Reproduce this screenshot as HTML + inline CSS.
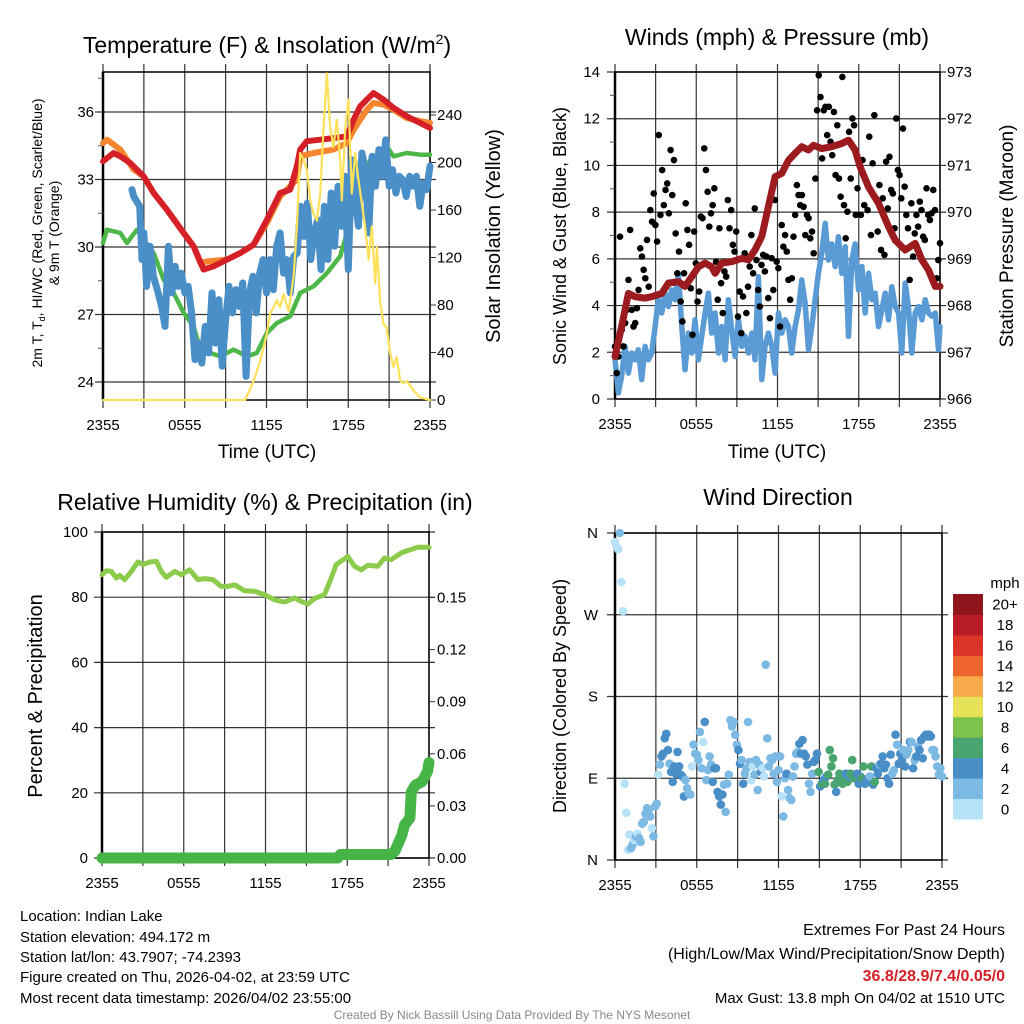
<!DOCTYPE html>
<html><head><meta charset="utf-8"><title>Indian Lake Meteogram</title>
<style>
html,body{margin:0;padding:0;background:#fff;}
svg{display:block;font-family:"Liberation Sans",Arial,sans-serif;}
</style></head>
<body>
<svg id="chart" width="1024" height="1024" viewBox="0 0 1024 1024" xmlns="http://www.w3.org/2000/svg">
<rect x="0" y="0" width="1024" height="1024" fill="#fff"/>
<text x="267" y="53" font-size="23" text-anchor="middle">Temperature (F) &amp; Insolation (W/m<tspan dy="-9" font-size="14">2</tspan><tspan dy="9">)</tspan></text>
<text x="777" y="45" font-size="23" text-anchor="middle">Winds (mph) &amp; Pressure (mb)</text>
<text x="265" y="510" font-size="23" text-anchor="middle">Relative Humidity (%) &amp; Precipitation (in)</text>
<text x="778" y="505" font-size="23" text-anchor="middle">Wind Direction</text>

<text transform="translate(42,233) rotate(-90)" font-size="14" text-anchor="middle">2m T, T<tspan dy="3" font-size="9">d</tspan><tspan dy="-3">, HI/WC (Red, Green, Scarlet/Blue)</tspan></text>
<text transform="translate(59,233) rotate(-90)" font-size="14" text-anchor="middle">&amp; 9m T (Orange)</text>
<text transform="translate(500,236) rotate(-90)" font-size="20" text-anchor="middle">Solar Insolation (Yellow)</text>
<text transform="translate(566,236) rotate(-90)" font-size="18" text-anchor="middle">Sonic Wind &amp; Gust (Blue, Black)</text>
<text transform="translate(1013,236) rotate(-90)" font-size="19" text-anchor="middle">Station Pressure (Maroon)</text>
<text transform="translate(42,696) rotate(-90)" font-size="20" text-anchor="middle">Percent &amp; Precipitation</text>
<text transform="translate(566,696) rotate(-90)" font-size="18" text-anchor="middle">Direction (Colored By Speed)</text>
<text x="267" y="458" font-size="19" text-anchor="middle">Time (UTC)</text>
<text x="777" y="458" font-size="19" text-anchor="middle">Time (UTC)</text>

<g font-size="15">
<text x="20" y="921">Location: Indian Lake</text>
<text x="20" y="942">Station elevation: 494.172 m</text>
<text x="20" y="962">Station lat/lon: 43.7907; -74.2393</text>
<text x="20" y="982">Figure created on Thu, 2026-04-02, at 23:59 UTC</text>
<text x="20" y="1003">Most recent data timestamp: 2026/04/02 23:55:00</text>
</g>
<g font-size="15" text-anchor="end">
<text x="1005" y="935" font-size="16">Extremes For Past 24 Hours</text>
<text x="1005" y="959" font-size="16">(High/Low/Max Wind/Precipitation/Snow Depth)</text>
<text x="1005" y="981" font-size="16" font-weight="bold" fill="#d42026">36.8/28.9/7.4/0.05/0</text>
<text x="1005" y="1003">Max Gust: 13.8 mph On 04/02 at 1510 UTC</text>
</g>
<text x="512" y="1019" font-size="12" fill="#888" text-anchor="middle">Created By Nick Bassill Using Data Provided By The NYS Mesonet</text>
<text x="1005" y="588" font-size="15" text-anchor="middle">mph</text>
</svg>
<script>
// ---------- Data ----------
const timeTickLabels = ["2355","0555","1155","1755","2355"];
const tempTicks = [24,27,30,33,36];
const solarTicks = [0,40,80,120,160,200,240];
const windTicks = [0,2,4,6,8,10,12,14];
const presTicks = [966,967,968,969,970,971,972,973];
const rhTicks = [0,20,40,60,80,100];
const precipTicks = [0.00,0.03,0.06,0.09,0.12,0.15];
const precipTickLabels = ["0.00","0.03","0.06","0.09","0.12","0.15"];
const dirTicks = [0,90,180,270,360];
const dirTickLabels = ["N","E","S","W","N"];

const tempT = [0,0.78,1.27,2.0,2.98,3.72,4.69,5.92,6.65,7.38,8.12,9.1,10.07,11.05,12.03,13.0,13.74,14.23,14.47,14.96,15.94,16.92,17.9,18.39,18.88,19.36,19.85,20.59,21.32,22.3,23.28,24];
const tempV = [33.81,34.18,34.03,33.73,33.14,32.4,31.66,30.62,30.03,29.0,29.14,29.44,29.73,30.1,31.21,32.4,32.55,33.59,34.33,34.7,34.77,34.84,34.92,35.66,36.25,36.55,36.84,36.55,36.18,35.81,35.51,35.29];
const t9mT = [0,0.3,1.27,2.25,2.98,3.72,4.69,5.92,6.65,7.14,7.63,9.1,10.07,11.05,12.03,13.0,14.23,14.47,15.45,16.92,17.9,18.39,19.36,19.85,20.59,21.32,22.3,23.28,24];
const t9mV = [34.62,34.77,34.33,33.44,33.14,32.4,31.66,30.62,30.03,29.29,29.36,29.44,29.73,30.1,31.07,32.25,33.0,34.03,34.18,34.33,34.62,35.21,36.1,36.4,36.33,36.1,35.73,35.59,35.51];
const dewT = [0,0.29,1.27,1.76,2.49,2.98,3.72,4.45,5.18,5.92,6.65,7.14,7.87,8.61,9.58,10.56,11.29,12.03,12.76,13.74,14.47,15.45,16.43,17.41,17.9,18.39,19.12,19.61,20.34,20.83,21.32,22.3,23.28,24];
const dewV = [30.18,30.77,30.62,30.18,30.77,30.33,29.73,28.55,27.96,27.07,26.47,25.44,25.29,25.14,25.44,25.14,25.29,26.18,26.62,26.92,27.96,28.25,28.84,29.59,30.62,33.88,33.14,33.88,34.03,34.47,34.03,34.18,34.1,34.1];
const wcT = [2.13,2.25,2.69,2.86,3.0,3.2,3.45,3.7,4.05,4.3,4.55,4.8,5.05,5.3,5.5,5.75,6.0,6.25,6.5,6.75,7.0,7.25,7.5,7.75,8.0,8.25,8.5,8.75,9.0,9.25,9.5,9.75,10.0,10.25,10.5,10.75,11.0,11.25,11.5,11.75,12.0,12.25,12.5,12.75,13.0,13.25,13.5,13.75,14.0,14.25,14.5,14.75,15.0,15.25,15.5,15.75,16.0,16.25,16.5,16.75,17.0,17.25,17.5,17.75,18.0,18.25,18.5,18.75,19.0,19.25,19.5,19.75,20.0,20.25,20.5,20.75,21.0,21.25,21.5,21.75,22.0,22.25,22.5,22.75,23.0,23.25,23.5,23.75,24.0];
const wcV = [32.55,32.25,31.81,29.44,30.62,28.25,30.03,28.7,27.96,27.36,26.47,30.03,27.96,29.14,28.25,28.84,27.96,28.25,27.07,24.99,25.73,24.84,26.47,25.29,27.96,25.73,27.66,24.7,26.77,28.25,27.07,28.1,27.36,28.4,24.25,27.96,28.7,27.07,28.84,29.44,27.96,29.44,28.1,30.03,30.62,28.84,29.44,27.96,29.59,29.73,31.81,30.47,31.96,29.44,30.62,31.21,29.0,31.81,29.44,32.4,30.03,32.7,30.92,33.14,29.0,33.88,32.1,30.92,34.18,33.44,30.62,34.03,32.7,34.33,33.14,34.77,32.7,33.44,32.4,33.14,32.99,32.25,33.14,32.7,33.14,31.81,32.84,32.55,33.59];
const solarT = [0,10.44,11.05,11.54,12.03,12.27,12.52,12.76,13.0,13.25,13.62,13.99,14.23,14.47,14.72,14.96,15.21,15.45,15.7,15.94,16.19,16.43,16.67,16.92,17.16,17.41,17.53,17.78,18.02,18.26,18.51,18.75,19.0,19.24,19.49,19.73,19.98,20.1,20.34,20.59,20.83,21.08,21.32,21.56,21.81,22.05,22.3,22.79,23.28,24];
const solarV = [0,0,16,33,56,73,78,84,78,89,75,104,146,208,202,194,168,157,151,174,230,275,230,213,236,202,168,230,253,174,208,185,165,146,118,146,98,129,84,64,61,39,28,36,16,14,16,8,2,0];

const presT = [0,0.49,0.99,1.48,2.22,2.71,3.45,3.94,4.68,5.17,5.67,6.16,6.65,7.14,7.39,7.88,8.62,9.36,9.85,10.34,10.84,11.33,11.82,12.32,12.81,13.3,13.79,14.29,14.66,15.27,16.01,16.75,17.24,17.73,18.1,18.72,19.46,20.2,20.69,21.43,22.17,22.66,23.15,23.65,24];
const presV = [966.91,967.55,968.26,968.19,968.16,968.19,968.26,968.48,968.51,968.41,968.62,968.83,968.91,968.83,968.69,968.91,968.94,969.01,968.98,969.19,969.48,970.12,970.76,970.83,971.11,971.26,971.4,971.33,971.43,971.36,971.4,971.47,971.54,971.33,970.97,970.54,970.19,969.69,969.4,969.19,969.33,968.98,968.76,968.41,968.41];
const windT = [0,0.25,0.49,0.74,0.99,1.23,1.48,1.72,1.97,2.22,2.46,2.71,2.96,3.2,3.45,3.69,3.94,4.19,4.43,4.68,4.93,5.17,5.42,5.67,5.91,6.16,6.4,6.65,6.9,7.14,7.39,7.64,7.88,8.13,8.37,8.62,8.87,9.11,9.36,9.61,9.85,10.1,10.34,10.59,10.84,11.08,11.33,11.58,11.82,12.07,12.32,12.56,12.81,13.05,13.3,13.55,13.79,14.04,14.29,14.53,14.78,15.02,15.27,15.52,15.76,16.01,16.26,16.5,16.75,17.0,17.24,17.49,17.73,17.98,18.23,18.47,18.72,18.97,19.21,19.46,19.7,19.95,20.2,20.44,20.69,20.94,21.18,21.43,21.67,21.92,22.17,22.41,22.66,22.91,23.15,23.4,23.65,23.89,24.0];
const windV = [1.68,0.26,0.97,2.25,1.11,1.97,1.68,2.11,0.83,2.25,1.68,1.97,3.1,4.25,3.68,4.53,3.96,4.67,4.25,5.38,3.1,1.25,2.82,1.97,3.39,1.68,2.68,3.68,4.53,2.82,3.68,1.97,3.1,1.68,4.25,2.96,1.82,3.39,2.25,2.68,1.97,2.82,1.68,5.24,0.83,2.25,2.82,2.25,1.11,3.68,2.82,3.39,3.1,1.97,3.1,3.82,5.1,4.1,2.11,3.1,4.25,5.38,6.24,7.52,5.95,6.64,5.67,6.95,5.38,6.52,2.68,5.95,6.64,4.67,5.67,3.68,5.38,4.25,4.53,3.1,3.82,4.53,3.39,4.81,3.96,3.68,1.97,4.96,3.96,1.97,3.68,3.96,3.39,4.25,3.68,3.54,3.68,2.11,3.1];
const gustStartHour = 0, gustEndHour = 24;
const gustV = [2.25,1.11,1.82,6.95,2.96,2.25,3.25,3.82,5.1,7.24,3.82,3.1,3.25,3.89,4.67,6.45,6.1,5.53,5.17,6.81,4.81,8.09,7.59,8.8,7.45,6.74,11.3,7.88,9.8,8.3,8.95,9.23,7.95,10.66,8.73,10.23,7.09,5.38,6.31,4.17,3.32,5.38,8.38,7.24,6.6,4.74,2.75,7.17,5.81,4.17,4.6,7.81,7.74,10.73,9.8,8.87,7.38,7.95,8.3,9.02,5.88,4.25,7.31,4.96,3.68,5.46,5.24,8.52,7.31,8.09,6.6,6.31,7.17,3.53,4.6,2.82,4.39,6.24,3.68,4.81,5.67,7.02,5.38,8.16,5.95,4.67,3.96,5.74,6.17,5.46,6.1,4.32,3.46,6.03,4.67,8.52,5.88,5.6,3.1,7.45,6.52,7.02,6.31,5.1,4.25,5.17,6.95,7.88,9.16,8.73,8.3,8.73,8.23,7.02,7.88,7.74,6.88,7.17,6.24,9.44,12.36,13.86,12.93,10.3,12.36,12.51,11.3,12.51,11.01,10.44,12.29,9.59,11.72,9.44,8.66,13.79,8.3,6.88,8.02,11.44,9.44,12.01,11.72,7.88,9.02,10.23,7.88,10.23,8.3,9.37,8.09,11.23,7.02,10.09,12.15,8.59,7.17,9.16,6.38,8.59,6.17,10.16,8.16,10.37,8.95,8.8,7.31,12.01,9.8,9.59,8.59,11.58,9.09,7.88,7.31,5.1,8.38,6.1,7.09,7.88,7.38,8.45,8.09,6.95,6.81,9.02,7.88,7.66,7.95,8.95,8.09,5.17,5.95,6.67];

const rhT = [0,0.32,0.68,1.05,1.3,1.66,2.15,2.64,3.01,3.5,3.99,4.35,4.72,5.33,5.82,6.43,7.04,7.53,8.14,8.75,9.24,9.73,10.46,11.2,11.93,12.67,13.4,14.13,14.62,15.11,15.6,16.33,16.82,17.19,18.04,18.53,19.02,19.51,20.24,20.73,21.22,21.96,22.44,23.18,24];
const rhV = [86.9,88.1,87.9,85.9,86.7,85.4,87.9,90.8,90.0,90.8,91.0,87.9,86.1,87.9,86.9,88.4,85.4,85.7,85.4,83.3,83.3,83.8,82.0,81.8,80.8,79.2,78.5,79.8,78.7,77.9,79.6,80.8,85.9,90.0,92.5,89.5,88.4,89.8,89.5,92.0,91.5,93.6,94.3,95.3,95.3];
const precipT = [0,17.3,17.5,21.2,21.5,22.0,22.2,22.6,22.7,23.0,23.5,23.9,24];
const precipV = [0,0,0.002,0.002,0.004,0.013,0.019,0.023,0.038,0.042,0.044,0.050,0.055];

const dirStartHour = 0, dirEndHour = 24;
const dirV = [350,345,342,360,306,274,84,52,11,28,13,17,22,26,29,24,20,40,42,51,57,55,48,35,26,59,62,94,105,114,117,134,139,121,106,97,86,103,95,119,103,94,92,70,88,79,73,72,103,127,117,116,110,141,101,130,152,88,99,114,105,86,101,101,75,70,61,72,83,53,84,94,154,147,152,138,127,121,106,110,84,95,101,152,108,88,103,94,110,77,105,97,101,92,215,134,103,112,110,95,114,86,99,114,70,48,90,95,77,68,66,92,103,117,119,128,117,132,117,114,105,84,75,95,108,110,117,97,81,84,88,84,92,94,121,103,112,83,75,88,95,90,84,92,95,86,92,95,110,90,94,95,84,92,90,103,84,88,90,92,103,83,86,101,95,105,106,114,101,105,90,84,116,95,99,138,127,106,117,110,121,103,116,121,130,130,101,110,114,125,121,132,112,136,138,136,138,136,121,121,114,103,94,101,92];
const dirSpeed = [1,1,1,3,1,1,1,1,1,1,3,3,1,3,1,3,3,3,3,3,3,3,3,1,3,3,3,1,3,5,5,5,5,5,3,5,5,5,5,5,5,5,5,5,3,3,3,3,1,3,3,3,3,3,3,1,5,3,3,3,3,5,5,5,5,5,5,5,3,3,3,3,3,3,3,3,3,5,5,3,5,3,3,3,3,1,1,3,3,3,3,5,1,1,3,3,3,3,3,3,3,3,3,3,1,3,3,5,3,3,3,3,3,3,3,5,5,5,5,5,5,3,3,3,5,5,5,6.5,5,6.5,5,6.5,5,6.5,6.5,6.5,6.5,6.5,5,6.5,6.5,6.5,6.5,6.5,5,6.5,5,6.5,6.5,6.5,6.5,5,5,5,6.5,6.5,5,5,5,3,6.5,5,6.5,5,5,3,5,5,5,5,5,5,5,3,3,5,3,5,5,5,3,5,3,3,5,3,5,3,5,3,5,5,5,5,5,5,5,5,3,3,3,3,3,3,3,3,3,3];
const speedBinLabels = ["0","2","4","6","8","10","12","14","16","18","20+"];
const speedBinColors = ["#b7e2f8","#7cb9e3","#4a8ec7","#49a56f","#7dc24b","#e6e157","#f6aa4a","#ee662e","#db3229","#b81c24","#8e151b"];

// ---------- Helpers ----------
const NS = "http://www.w3.org/2000/svg";
const svg = document.getElementById('chart');
function lin(d0,d1,r0,r1){return v => r0 + (v-d0)*(r1-r0)/(d1-d0);}
function mk(tag, parent){const e=document.createElementNS(NS,tag);(parent||svg).appendChild(e);return e;}
function setA(e,o){for(const k in o)e.setAttribute(k,o[k]);return e;}
function pathFrom(ts, vs, xs, ys){let d='';for(let i=0;i<ts.length;i++){d+=(i?'L':'M')+xs(ts[i]).toFixed(1)+','+ys(vs[i]).toFixed(1);}return d;}

const panels = {
  temp:{x0:103,x1:430,y0:72,y1:400},
  wind:{x0:615,x1:940,y0:72,y1:399},
  rh:{x0:102,x1:429,y0:532,y1:858},
  dir:{x0:615,x1:942,y0:533,y1:860}
};
const sc = {
  tx: lin(0,24,103,430), tT: lin(24,36,382,112), tS: lin(0,240,400,115),
  wx: lin(0,24,615,940), wW: lin(0,14,399,72), wP: lin(966,973,399,72),
  rx: lin(0,24,102,429), rR: lin(0,100,858,532), rP: lin(0,0.15,858,597.5),
  dx: lin(0,24,615,942), dD: lin(0,360,860,533)
};

function frame(p, key, hTicks, yfn){
  const g = mk('g');
  
  
  for(let i=0;i<=8;i++){
    const x = p.x0 + (p.x1-p.x0)*i/8;
    const l = setA(mk('line',g),{x1:x,x2:x,y1:p.y0-8,y2:p.y1+8,stroke:'#111','stroke-width':1.2,'stroke-opacity':0.85});
    
    
  }
  hTicks.forEach(v=>{
    const y = yfn(v);
    const l = setA(mk('line',g),{x1:p.x0-8,x2:p.x1+6,y1:y,y2:y,stroke:'#111','stroke-width':1.2,'stroke-opacity':0.85});
    
    
  });
  const r = setA(mk('rect',g),{x:p.x0,y:p.y0,width:p.x1-p.x0,height:p.y1-p.y0,fill:'none',stroke:'#000','stroke-width':1.5});
  
  
  const la = setA(mk('line',g),{x1:p.x0,x2:p.x0,y1:p.y0,y2:p.y1,stroke:'#000','stroke-width':2.5});
  
  
  timeTickLabels.forEach((lab,i)=>{
    const t = mk('text');
    setA(t,{x:p.x0+(p.x1-p.x0)*i/4,y:p.y1+30,'font-size':15,'text-anchor':'middle'});
    t.textContent = lab;
    
    
  });
}
function leftLabels(key, ticks, labels, yfn, x){
  ticks.forEach((v,i)=>{
    const t = mk('text');
    setA(t,{x:x,y:yfn(v)+5,'font-size':15,'text-anchor':'end'});
    t.textContent = labels[i];
    
    
  });
}
function rightLabels(key, ticks, labels, yfn, x, x1){
  ticks.forEach((v,i)=>{
    const t = mk('text');
    setA(t,{x:x,y:yfn(v)+5,'font-size':15,'text-anchor':'start'});
    t.textContent = labels[i];
    
    
    const l = setA(mk('line'),{x1:x1,x2:x1+6,y1:yfn(v),y2:yfn(v),stroke:'#333','stroke-width':1});
    
    
  });
}
function minorTicks(key, vals, yfn, x, dir){
  vals.forEach(v=>{
    const l = setA(mk('line'),{x1:x,x2:x+dir*5,y1:yfn(v),y2:yfn(v),stroke:'#555','stroke-width':1});
    
    
  });
}
function line(ts, vs, xs, ys, color, w, name){
  const p = setA(mk('path'),{d:pathFrom(ts,vs,xs,ys),fill:'none',stroke:color,'stroke-width':w,'stroke-linejoin':'round','stroke-linecap':'round'});
  
  
  return p;
}

// ---------- Panel 1: Temperature ----------
frame(panels.temp,'temperature',tempTicks,sc.tT);
leftLabels('temperature',tempTicks,tempTicks.map(String),sc.tT,94);
rightLabels('insolation',solarTicks,solarTicks.map(String),sc.tS,437,430);
minorTicks('temperature',[25.5,28.5,31.5,34.5,37.5],sc.tT,103,-1);
line(dewT,dewV,sc.tx,sc.tT,'#4db848',4.5,'dewpoint-line');
line(wcT,wcV,sc.tx,sc.tT,'#4a8fc7',7,'windchill-line');
line(t9mT,t9mV,sc.tx,sc.tT,'#f5862e',6,'temperature-9m-line');
line(tempT,tempV,sc.tx,sc.tT,'#d42026',6,'temperature-2m-line');
line(solarT,solarV,sc.tx,sc.tS,'#fde15a',2.2,'solar-insolation-line');

// ---------- Panel 2: Winds ----------
frame(panels.wind,'winds',windTicks,sc.wW);
leftLabels('winds',windTicks,windTicks.map(String),sc.wW,600);
rightLabels('pressure',presTicks,presTicks.map(String),sc.wP,947,940);
minorTicks('winds',[1,3,5,7,9,11,13],sc.wW,615,-1);
line(windT,windV,sc.wx,sc.wW,'#5b9bd5',5.5,'sonic-wind-line');
const gN = gustV.length;
gustV.forEach((v,i)=>{
  const t = gustStartHour + (gustEndHour-gustStartHour)*i/(gN-1);
  const c = setA(mk('circle'),{cx:sc.wx(t),cy:sc.wW(v),r:3.3,fill:'#000'});
  
  
});
line(presT,presV,sc.wx,sc.wP,'#9b1b1e',7,'pressure-line');

// ---------- Panel 3: RH & Precip ----------
frame(panels.rh,'humidity',rhTicks,sc.rR);
leftLabels('humidity',rhTicks,rhTicks.map(String),sc.rR,88);
rightLabels('precipitation',precipTicks,precipTickLabels,sc.rP,437,429);
line(rhT,rhV,sc.rx,sc.rR,'#8dcb4d',5,'relative-humidity-line');
line(precipT,precipV,sc.rx,sc.rP,'#46b446',11,'precipitation-line');

// ---------- Panel 4: Wind direction ----------
frame(panels.dir,'direction',dirTicks,sc.dD);
leftLabels('direction',dirTicks,dirTickLabels,sc.dD,598);
const dN = dirV.length;
dirV.forEach((v,i)=>{
  const t = dirStartHour + (dirEndHour-dirStartHour)*i/(dN-1);
  const spd = (dirSpeed[i] !== undefined) ? dirSpeed[i] : 3;
  const bin = Math.min(10, Math.floor(spd/2));
  const c = setA(mk('circle'),{cx:sc.dx(t),cy:sc.dD(v),r:4.3,fill:speedBinColors[bin]});
  
  
});
const cbTop = 594, cbBot = 819, cbX = 953, cbW = 30;
const cbH = (cbBot-cbTop)/speedBinColors.length;
speedBinColors.forEach((col,i)=>{
  const y = cbBot - (i+1)*cbH;
  const r = setA(mk('rect'),{x:cbX,y:y,width:cbW,height:cbH+0.5,fill:col});
  
  
  const t = mk('text');
  setA(t,{x:1005,y:y+cbH/2+5.5,'font-size':15,'text-anchor':'middle'});
  t.textContent = speedBinLabels[i];
  
  
});
</script>
</body></html>
